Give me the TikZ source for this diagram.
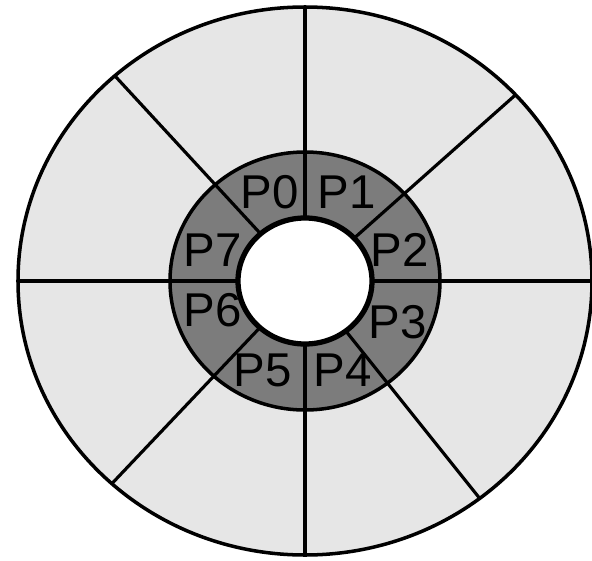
\documentclass[tikz,border=0pt]{standalone}
\usepackage{fontspec}
\setmainfont{Liberation Sans}
\usetikzlibrary{calc}
\definecolor{sector}{HTML}{E6E6E6}
\definecolor{ring}{HTML}{7C7C7C}
\tikzset{rim/.style={draw=black,line width=2pt},spoke/.style={black,line width=1.8pt},plabel/.style={font=\fontsize{27}{27}\selectfont,inner sep=0pt}}
\begin{document}
\begin{tikzpicture}[x=0.02cm,y=-0.02cm]
\useasboundingbox (0,0) rectangle (592,561);
\fill[white] (0,0) rectangle (592,561);
\coordinate (c) at (305,281);
\draw[rim,fill=sector] (c) ellipse [x radius=287,y radius=274];
\draw[rim,fill=ring] (c) ellipse [x radius=135,y radius=129];
% spokes from hub to rim
\foreach \a in {90,42.8,0,-52.5,-90,227.7,180,131.5} \draw[spoke] ($(c)+(-\a:67 and 63)$) -- ($(c)+(-\a:287 and 274)$);
\draw[rim,line width=3pt,fill=white] (c) ellipse [x radius=67,y radius=63];
\foreach \i/\x/\y in {0/270/192,1/347/192,2/400/250,3/398/322,4/343/370,5/263/370,6/213/310,7/213/250} \node[plabel] (p\i) at (\x,\y) {P\i};
\end{tikzpicture}
\end{document}
